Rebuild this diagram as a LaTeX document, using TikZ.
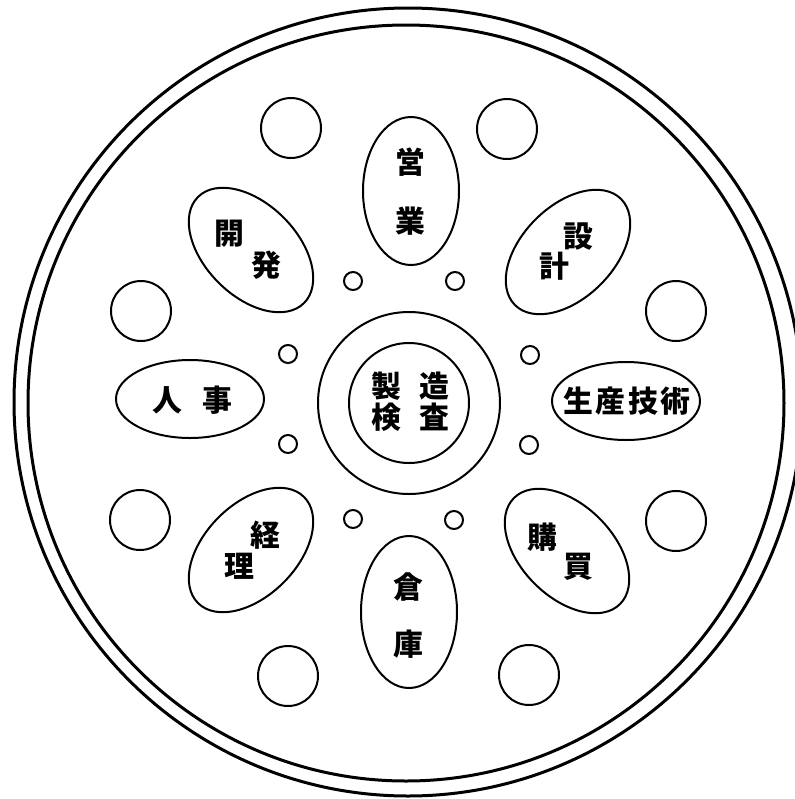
\documentclass[tikz,border=0pt]{standalone}
\usepackage{fontspec}
\newfontfamily\jp{Noto Sans CJK JP}
\usetikzlibrary{shapes.geometric}
\tikzset{
  rim/.style={line width=0.06cm},
  part/.style={line width=0.04cm},
  word/.style={inner sep=0pt, font=\jp\bfseries\fontsize{17}{20}\selectfont}
}
\begin{document}
\begin{tikzpicture}[x=0.02cm, y=0.02cm]
  \useasboundingbox (0,0) rectangle (795,-799);
  \coordinate (O) at (408,-402);
  \coordinate (O') at (406,-403);
  \coordinate (M) at (409,-403);

  \draw[rim] (O) circle (394);
  \draw[rim] (O') circle (378);

  % centre
  \draw[part] (M) circle (91);
  \draw[part] (M) circle (60);

  % departments
  \coordinate (Eigyo) at (411,-191);
  \coordinate (Soko) at (409,-612);
  \coordinate (Jinji) at (190,-399);
  \coordinate (Seisan) at (626,-401);
  \coordinate (Kaihatsu) at (251,-250);
  \coordinate (Sekkei) at (568,-252);
  \coordinate (Keiri) at (251,-550);
  \coordinate (Kobai) at (567,-551);

  \draw[part] (Eigyo) ellipse [x radius=48, y radius=74];
  \draw[part] (Soko) ellipse [x radius=48, y radius=76];
  \draw[part] (Jinji) ellipse [x radius=74, y radius=39];
  \draw[part] (Seisan) ellipse [x radius=74, y radius=39];
  \draw[part, rotate around={-45:(Kaihatsu)}] (Kaihatsu) ellipse [x radius=75, y radius=46];
  \draw[part, rotate around={45:(Sekkei)}] (Sekkei) ellipse [x radius=75, y radius=46];
  \draw[part, rotate around={45:(Keiri)}] (Keiri) ellipse [x radius=75, y radius=46];
  \draw[part, rotate around={-45:(Kobai)}] (Kobai) ellipse [x radius=75, y radius=46];

  % big and small circles
  \foreach \x/\y in {291/128, 507/129, 141/311, 676/311, 140/520, 676/521, 288/676, 529/675}
    \draw[part] (\x,-\y) circle (30);
  \foreach \x/\y in {353/281, 455/281, 288/354, 530/355, 288/444, 529/445, 353/519, 454/520}
    \draw[part] (\x,-\y) circle (9);

  % labels
  \node[word] (ei) at (410,-162) {営};
  \node[word] (gyo) at (410,-221) {業};
  \node[word] (kai) at (229,-234) {開};
  \node[word] (hatsu) at (266,-265) {発};
  \node[word] (setsu) at (578,-237) {設};
  \node[word] (kei) at (554,-266) {計};
  \node[word] (jin) at (167,-400) {人};
  \node[word] (ji) at (217,-400) {事};
  \node[word] (seisangijutsu) at (627,-401) {生\kern1.5pt 産\kern1.5pt 技\kern1.5pt 術};
  \node[word] (sei) at (386,-386) {製};
  \node[word] (zo) at (434,-386) {造};
  \node[word] (ken) at (386,-417) {検};
  \node[word] (sa) at (434,-417) {査};
  \node[word] (kei2) at (265,-535) {経};
  \node[word] (ri) at (239,-566) {理};
  \node[word] (ko) at (542,-537) {購};
  \node[word] (bai) at (578,-567) {買};
  \node[word] (so) at (408,-587) {倉};
  \node[word] (ko2) at (408,-644) {庫};
\end{tikzpicture}
\end{document}
